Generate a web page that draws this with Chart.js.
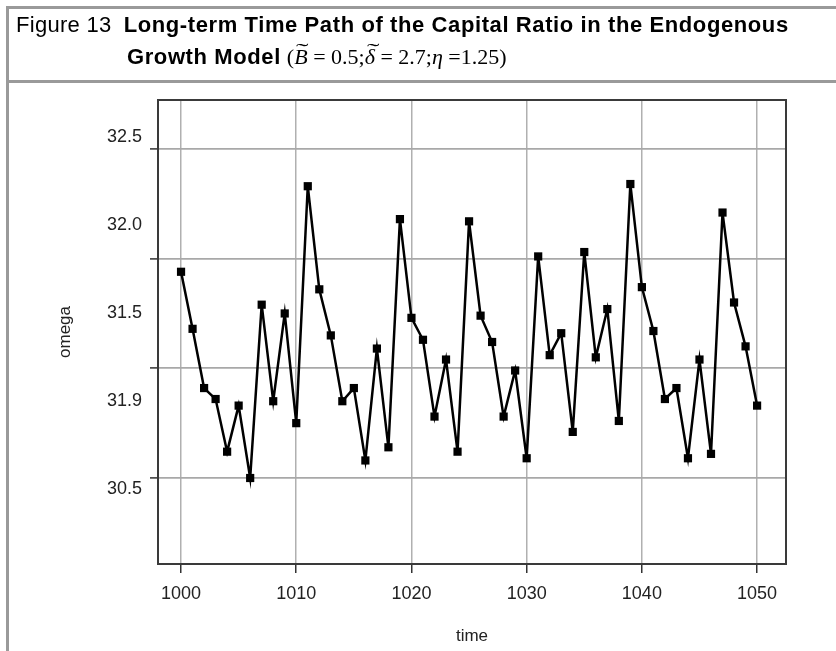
<!DOCTYPE html>
<html>
<head>
<meta charset="utf-8">
<title>Figure 13</title>
<script src="https://cdn.jsdelivr.net/npm/chart.js@4.4.1/dist/chart.umd.min.js"></script>
<style>
  html, body { margin: 0; padding: 0; background: #fff; }
  #page { position: relative; width: 836px; height: 651px; overflow: hidden; }
  #omegaChart { position: absolute; left: 0; top: 0; }
  .rule { position: absolute; background: #9a9a9a; }
  .head { position: absolute; white-space: nowrap; font-family: "Liberation Sans", Arial, sans-serif;
          font-size: 22px; line-height: 26px; color: #000; }
  .head b { letter-spacing: 0.6px; }
  .fig { letter-spacing: 0.3px; margin-right: 12px; }
  .math { font-family: "Liberation Serif", "Times New Roman", serif; font-size: 22px; margin-left: 6px; }
  .acc { position: relative; display: inline-block; font-style: italic; }
  .tilde { position: absolute; left: 2px; top: -6px; font-style: normal; transform: scaleX(1.7); transform-origin: left center; }
</style>
</head>
<body>
<div id="page">
  <canvas id="omegaChart" width="836" height="651"></canvas>

  <!-- cadre gris du titre -->
  <div class="rule" style="left:6px; top:6px; width:830px; height:2.5px;"></div>
  <div class="rule" style="left:6px; top:80px; width:830px; height:2.5px;"></div>
  <div class="rule" style="left:6px; top:6px; width:2.5px; height:645px;"></div>

  <div class="head" style="left:16px; top:12px;"><span class="fig">Figure 13</span><b>Long-term Time Path of the Capital Ratio in the Endogenous</b></div>
  <div class="head" style="left:127px; top:44px;"><b>Growth Model</b><span class="math">(<span class="acc">B<span class="tilde">˜</span></span> = 0.5;<span class="acc">δ<span class="tilde">˜</span></span> = 2.7;<i>η</i> =1.25)</span></div>
</div>

<script>
// time axis (one point per period)
const times = [
  1000, 1001, 1002, 1003, 1004, 1005, 1006, 1007, 1008, 1009,
  1010, 1011, 1012, 1013, 1014, 1015, 1016, 1017, 1018, 1019,
  1020, 1021, 1022, 1023, 1024, 1025, 1026, 1027, 1028, 1029,
  1030, 1031, 1032, 1033, 1034, 1035, 1036, 1037, 1038, 1039,
  1040, 1041, 1042, 1043, 1044, 1045, 1046, 1047, 1048, 1049,
  1050
];

// capital ratio omega
const omega = [
  31.94, 31.68, 31.41, 31.36, 31.12, 31.33, 31.00, 31.79, 31.35, 31.75,
  31.25, 32.33, 31.86, 31.65, 31.35, 31.41, 31.08, 31.59, 31.14, 32.18,
  31.73, 31.63, 31.28, 31.54, 31.12, 32.17, 31.74, 31.62, 31.28, 31.49,
  31.09, 32.01, 31.56, 31.66, 31.21, 32.03, 31.55, 31.77, 31.26, 32.34,
  31.87, 31.67, 31.36, 31.41, 31.09, 31.54, 31.11, 32.21, 31.80, 31.60,
  31.33
];

const xTicks = [1000, 1010, 1020, 1030, 1040, 1050];
const yGridTicks = [31.0, 31.5, 32.0, 32.5];
// tick labels exactly as printed in the original (bottom -> top), they sit between the grid lines
const yLabelValues = [30.5, 31.0, 31.5, 32.0, 32.5];
const yLabelTexts = ['30.5', '31.9', '31.5', '32.0', '32.5'];

const FONT = '"Liberation Sans", Arial, sans-serif';

// cadre du graphique (haut + droite)
const framePlugin = {
    id: 'frame',
    afterDraw(chart) {
        const a = chart.chartArea;
        const ctx = chart.ctx;
        ctx.save();
        ctx.strokeStyle = '#3a3a3a';
        ctx.lineWidth = 2;
        ctx.strokeRect(a.left, a.top, a.right - a.left, a.bottom - a.top);
        ctx.restore();
    }
};

const points = times.map((t, i) => ({ x: t, y: omega[i] }));

new Chart(document.getElementById('omegaChart'), {
    type: 'line',
    data: {
        datasets: [{
            data: points,
            borderColor: '#000',
            borderWidth: 2.5,
            tension: 0,
            pointStyle: 'rect',
            pointRadius: 5.8,
            pointBackgroundColor: '#000',
            pointBorderColor: '#000',
            pointBorderWidth: 0,
            xAxisID: 'x',
            yAxisID: 'y'
        }]
    },
    options: {
        responsive: false,
        animation: false,
        devicePixelRatio: 1,
        layout: { padding: { top: 100, right: 50, left: 0, bottom: 0 } },
        plugins: { legend: { display: false }, tooltip: { enabled: false } },
        scales: {
            x: {
                type: 'linear',
                min: 998.0,
                max: 1052.51,
                afterBuildTicks: s => { s.ticks = xTicks.map(v => ({ value: v })); },
                afterFit: s => { s.height = 87; },
                grid: { color: '#b0b0b0', lineWidth: 1.5, tickLength: 9, tickColor: '#333', tickWidth: 1.5 },
                border: { color: '#3a3a3a', width: 2 },
                ticks: { font: { family: FONT, size: 18 }, color: '#222', padding: 10, maxRotation: 0,
                         callback: v => String(v) },
                title: { display: true, text: 'time', font: { family: FONT, size: 17 }, color: '#222',
                         padding: { top: 0, bottom: 4 } }
            },
            yLab: {
                position: 'left',
                weight: 10,
                min: 30.074,
                max: 32.710,
                afterBuildTicks: s => { s.ticks = yLabelValues.map(v => ({ value: v })); },
                afterFit: s => { s.width = 150; },
                grid: { display: false, drawTicks: false },
                border: { display: false },
                ticks: { font: { family: FONT, size: 18 }, color: '#222', padding: 8,
                         callback: (v, i) => yLabelTexts[i] },
                title: { display: true, text: 'omega', font: { family: FONT, size: 17 }, color: '#222',
                         padding: { top: 55, bottom: 0 } }
            },
            y: {
                position: 'left',
                weight: 0,
                min: 30.608,
                max: 32.723,
                afterBuildTicks: s => { s.ticks = yGridTicks.map(v => ({ value: v })); },
                afterFit: s => { s.width = 8; },
                grid: { color: '#a8a8a8', lineWidth: 1.8, tickLength: 8, tickColor: '#333', tickWidth: 1.5 },
                border: { color: '#3a3a3a', width: 2 },
                ticks: { display: false }
            }
        }
    },
    plugins: [framePlugin]
});
</script>
</body>
</html>
